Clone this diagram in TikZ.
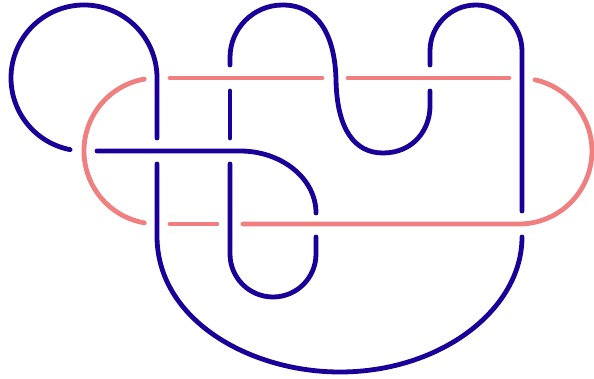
\documentclass[tikz,border=0pt]{standalone}
\usepackage{tikz}
\definecolor{knotblue}{HTML}{1A0099}
\definecolor{knotpink}{HTML}{F08080}
\tikzset{
  bluestrand/.style={draw=knotblue, line width=4.8pt, line cap=round, line join=round},
  pinkstrand/.style={draw=knotpink, line width=4.8pt, line cap=round, line join=round}
}
\begin{document}
\begin{tikzpicture}[x=1pt,y=1pt]
\useasboundingbox (0,0) rectangle (594,-379);
% pink component (stadium) with gaps where blue passes over
\draw[pinkstrand] (144.3,-79.1) arc[start angle=100, end angle=260, radius=73pt];
\draw[pinkstrand] (170,-78) -- (322,-78);
\draw[pinkstrand] (348,-78) -- (509,-78);
\draw[pinkstrand] (535,-79.8) arc[start angle=77.3, end angle=-90, radius=73pt] -- (243,-224);
\draw[pinkstrand] (217,-224) -- (170,-224);
% blue component
\draw[bluestrand] (97,-151) -- (240,-151) arc[start angle=90, end angle=0, x radius=76pt, y radius=62pt];
\draw[bluestrand] (316,-237) -- (316,-254) arc[start angle=0, end angle=-180, radius=43pt] -- (230,-164);
\draw[bluestrand] (230,-138) -- (230,-91);
\draw[bluestrand] (230,-65) -- (230,-57.5) arc[start angle=180, end angle=90, radius=52.5pt]
  .. controls (318,-5) and (335,-35) .. (336,-80)
  .. controls (337,-130) and (355,-153) .. (383,-153)
  .. controls (413,-153) and (430,-130) .. (430,-106) -- (430,-91);
\draw[bluestrand] (430,-65) -- (430,-51) arc[start angle=180, end angle=0, radius=46pt] -- (522,-211);
\draw[bluestrand] (522,-237) .. controls (522,-310) and (440,-372) .. (340,-372)
  .. controls (250,-372) and (157,-320) .. (157,-236) -- (157,-164);
\draw[bluestrand] (157,-138) -- (157,-78) arc[start angle=0, end angle=259, radius=73pt];
\end{tikzpicture}
\end{document}
